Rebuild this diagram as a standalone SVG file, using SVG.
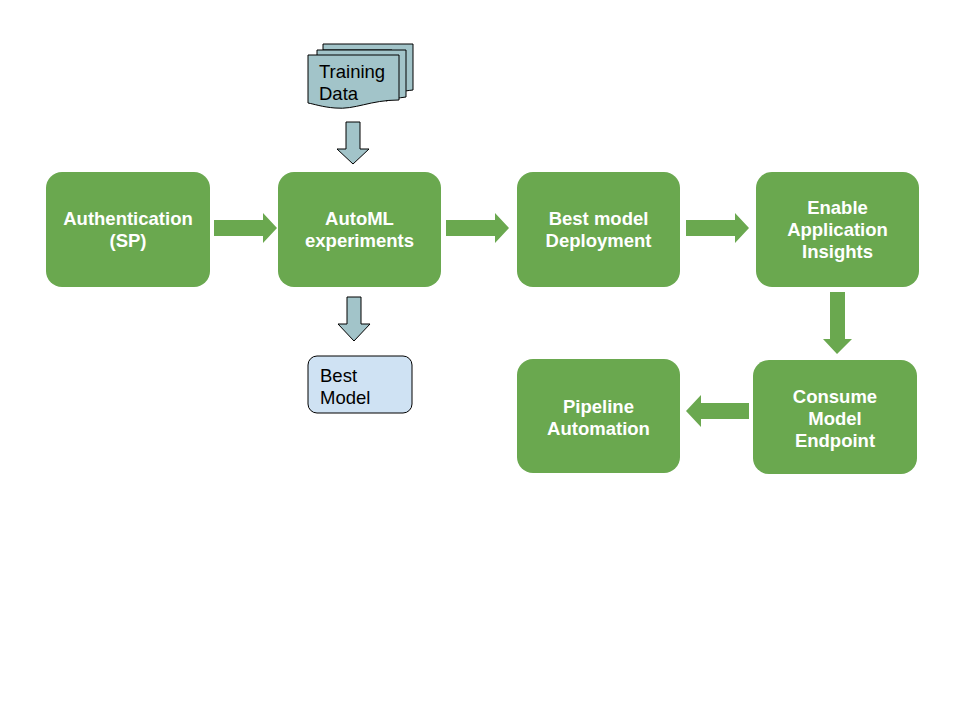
<svg xmlns="http://www.w3.org/2000/svg" width="960" height="720" viewBox="0 0 960 720">
<style>
.n{fill:#6aa84f;}
.t{font-family:"Liberation Sans",Arial,sans-serif;font-weight:bold;font-size:18.5px;fill:#ffffff;text-anchor:middle;}
.g{fill:#6aa84f;}
.b{fill:#a2c4c9;stroke:#000000;stroke-width:1;}
.bt{font-family:"Liberation Sans",Arial,sans-serif;font-size:18.5px;fill:#000000;}
</style>
<rect width="960" height="720" fill="#ffffff"/>
<g id="connectors">
<polygon class="g" points="214,220 263,220 263,213 277,228 263,243 263,236 214,236"/>
<polygon class="g" points="446,220 495,220 495,213 509,228 495,243 495,236 446,236"/>
<polygon class="g" points="686,220 735,220 735,213 749,228 735,243 735,236 686,236"/>
<polygon class="g" points="830,292 845,292 845,339 852,339 837,354 823,339 830,339"/>
<polygon class="g" points="749,403 701,403 701,395 686,411 701,427 701,419 749,419"/>
<polygon class="b" points="346,122 360,122 360,149 369,149 353,164 337,149 346,149"/>
<polygon class="b" points="347,297 361,297 361,324 370,324 354,341 338,324 347,324"/>
</g>
<g id="training-data">
<path class="b" d="M323,44 H413 V90 C404,91 398,92 392,94 V50 H323 Z"/>
<path class="b" d="M317,50 H406 V97 C398,98 392,99 386,101 L392,94 V56 H317 Z"/>
<path class="b" d="M308,55 H399 V100 C370,100 355,110 335,108 C322,107 314,104 308,103 Z"/>
<text class="bt" x="319" y="78">Training</text>
<text class="bt" x="319" y="100">Data</text>
</g>
<g id="auth">
<rect class="n" x="46" y="172" width="164" height="115" rx="16"/>
<text class="t" x="128" y="225">Authentication</text>
<text class="t" x="128" y="247">(SP)</text>
</g>
<g id="automl">
<rect class="n" x="278" y="172" width="163" height="115" rx="16"/>
<text class="t" x="359.5" y="225">AutoML</text>
<text class="t" x="359.5" y="247">experiments</text>
</g>
<g id="deploy">
<rect class="n" x="517" y="172" width="163" height="115" rx="16"/>
<text class="t" x="598.5" y="225">Best model</text>
<text class="t" x="598.5" y="247">Deployment</text>
</g>
<g id="insights">
<rect class="n" x="756" y="172" width="163" height="115" rx="16"/>
<text class="t" x="837.5" y="214">Enable</text>
<text class="t" x="837.5" y="236">Application</text>
<text class="t" x="837.5" y="258">Insights</text>
</g>
<g id="consume">
<rect class="n" x="753" y="360" width="164" height="114" rx="16"/>
<text class="t" x="835" y="403">Consume</text>
<text class="t" x="835" y="425">Model</text>
<text class="t" x="835" y="447">Endpoint</text>
</g>
<g id="pipeline">
<rect class="n" x="517" y="359" width="163" height="114" rx="16"/>
<text class="t" x="598.5" y="413">Pipeline</text>
<text class="t" x="598.5" y="435">Automation</text>
</g>
<g id="best-model">
<rect x="308" y="356" width="104" height="57" rx="9" fill="#cfe2f3" stroke="#000000" stroke-width="1"/>
<text class="bt" x="320" y="382">Best</text>
<text class="bt" x="320" y="404">Model</text>
</g>
</svg>
